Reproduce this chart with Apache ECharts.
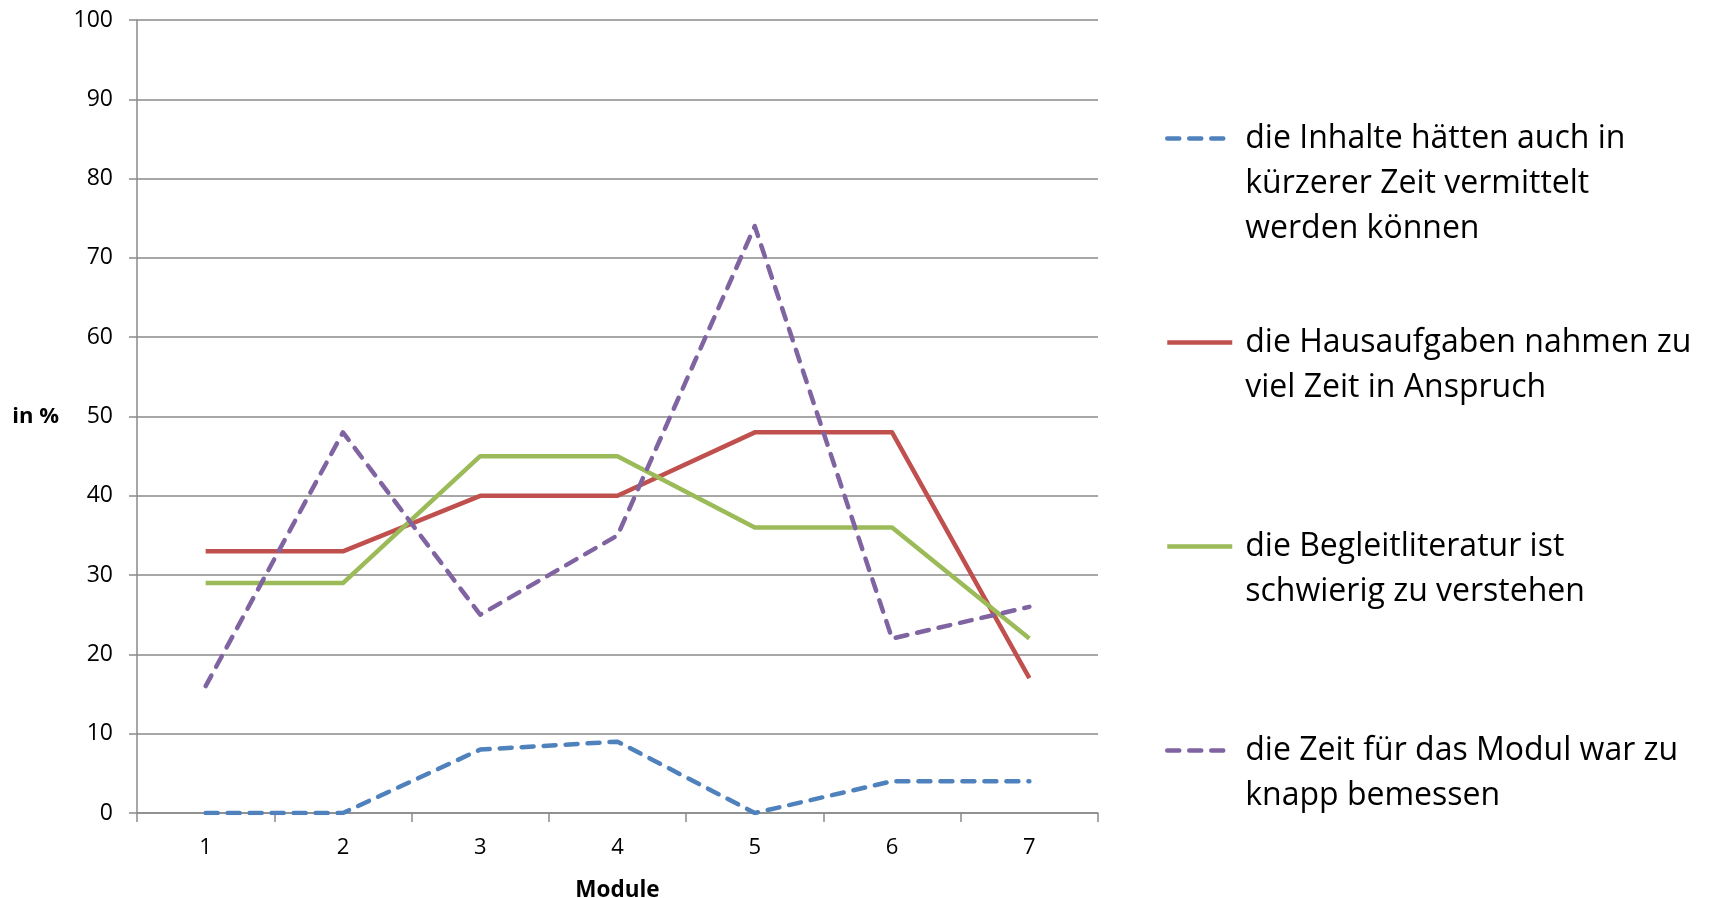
<!DOCTYPE html>
<html>
<head>
<meta charset="utf-8">
<script src="https://cdn.jsdelivr.net/npm/echarts@6/dist/echarts.min.js"></script>
<style>
    html, body { margin: 0; padding: 0; background: #fff; }
    #chart { width: 1710px; height: 898px; }
</style>
</head>
<body>
<div id="chart"></div>
<script>
var modules = ['1', '2', '3', '4', '5', '6', '7'];

var names = [
    'die Inhalte hätten auch in\nkürzerer Zeit vermittelt\nwerden können',
    'die Hausaufgaben nahmen zu\nviel Zeit in Anspruch',
    'die Begleitliteratur ist\nschwierig zu verstehen',
    'die Zeit für das Modul war zu\nknapp bemessen'
];

var inhalte = [0, 0, 8, 9, 0, 4, 4];
var hausaufgaben = [33, 33, 40, 40, 48, 48, 17];
var begleitliteratur = [29, 29, 45, 45, 36, 36, 22];
var zeitKnapp = [16, 48, 25, 35, 74, 22, 26];

var colors = ['#4F81BD', '#C0504D', '#9BBB59', '#8064A2'];
var axisGray = '#8a8a8a';
var font = '"Open Sans", sans-serif';
var lineH = 45;
var dash = [12, 10];

var chart = echarts.init(document.getElementById('chart'));

function makeSeries(i, data, dashed) {
    return {
        name: names[i],
        type: 'line',
        data: data,
        symbol: 'none',
        animation: false,
        lineStyle: {
            color: colors[i],
            width: 4.5,
            type: dashed ? dash : 'solid',
            cap: dashed ? 'round' : 'butt',
            join: 'round'
        },
        itemStyle: { color: colors[i] }
    };
}

// pad the text so the first line sits level with the legend line
function legendItem(i, dashed) {
    var lines = names[i].split('\n').length;
    var pad = lines === 3 ? [90, 0, 0, 8] : [90, 0, 45, 8];
    return {
        name: names[i],
        textStyle: { padding: pad },
        lineStyle: {
            color: colors[i],
            width: 4.5,
            type: dashed ? dash : 'solid',
            cap: dashed ? 'round' : 'butt'
        }
    };
}

var option = {
    backgroundColor: '#fff',
    grid: { left: 137, right: 612, top: 20, bottom: 85, outerBoundsMode: 'none', containLabel: false },
    legend: {
        orient: 'vertical',
        left: 1160,
        top: 21,
        itemWidth: 65,
        itemHeight: 14,
        itemGap: -21,
        itemStyle: { color: 'rgba(0,0,0,0)', borderWidth: 0, opacity: 0 },
        data: [legendItem(0, true), legendItem(1, false), legendItem(2, false), legendItem(3, true)],
        formatter: function (name) {
            return name.split('\n').map(function (l) { return '{t|' + l + '}'; }).join('\n');
        },
        textStyle: {
            fontFamily: font,
            fontSize: 32,
            lineHeight: lineH,
            color: '#000',
            rich: {
                t: { fontFamily: font, fontSize: 32, lineHeight: lineH, color: '#000' }
            }
        }
    },
    xAxis: {
        type: 'category',
        data: modules,
        boundaryGap: true,
        name: 'Module',
        nameLocation: 'middle',
        nameGap: 66,
        nameTextStyle: { fontFamily: font, fontSize: 22.5, fontWeight: 'bold', color: '#000' },
        axisLine: { lineStyle: { color: axisGray, width: 1.5 } },
        axisTick: { show: true, length: 9, lineStyle: { color: axisGray, width: 1.5 } },
        axisLabel: { margin: 24, fontFamily: font, fontSize: 22, color: '#000' }
    },
    yAxis: {
        type: 'value',
        min: 0,
        max: 100,
        interval: 10,
        name: 'in %',
        nameLocation: 'middle',
        nameRotate: 0,
        nameGap: 78,
        nameTextStyle: { fontFamily: font, fontSize: 22, fontWeight: 'bold', color: '#000' },
        axisLine: { show: true, lineStyle: { color: axisGray, width: 1.5 } },
        axisTick: { show: true, length: 8, lineStyle: { color: axisGray, width: 1.5 } },
        axisLabel: { margin: 24, fontFamily: font, fontSize: 23, color: '#000' },
        splitLine: { lineStyle: { color: axisGray, width: 1.5 } }
    },
    series: [
        makeSeries(0, inhalte, true),
        makeSeries(1, hausaufgaben, false),
        makeSeries(2, begleitliteratur, false),
        makeSeries(3, zeitKnapp, true)
    ]
};

chart.setOption(option);

window.onresize = chart.resize;
</script>
</body>
</html>
